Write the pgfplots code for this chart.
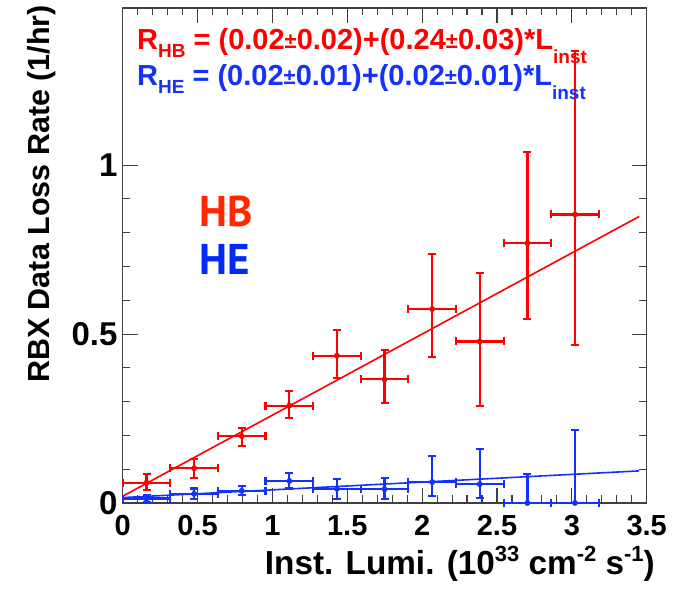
\documentclass[border=0pt]{standalone}
\usepackage{fontspec}
\setmainfont{Liberation Sans}
\newfontfamily\ptsans{PT Sans}
\usepackage{pgfplots}
\usepackage{pgfplotstable}
\pgfplotsset{compat=1.18}
\definecolor{hbred}{RGB}{255,0,0}
\definecolor{heblue}{RGB}{20,50,255}
\definecolor{hbtext}{RGB}{255,40,0}
\definecolor{hetext}{RGB}{0,40,255}
\newcommand\sub[2]{\raisebox{#1}{\fontsize{19}{19}\selectfont #2}}
\newcommand\pmm{{\fontsize{22}{22}\selectfont\raisebox{1pt}{±}}}
\newcommand\sups[1]{\raisebox{13pt}{\fontsize{22}{22}\selectfont #1}}

\pgfplotstableread{
x y ex eyp eym
0.159 0.060 0.159 0.025 0.022
0.477 0.103 0.159 0.026 0.028
0.795 0.198 0.159 0.025 0.029
1.113 0.288 0.159 0.044 0.036
1.431 0.436 0.159 0.076 0.067
1.749 0.366 0.159 0.086 0.069
2.067 0.574 0.159 0.164 0.143
2.385 0.478 0.159 0.202 0.190
2.703 0.769 0.159 0.270 0.224
3.021 0.854 0.159 0.484 0.387
}\hbdata

\pgfplotstableread{
x y ex eyp eym
0.159 0.013 0.159 0.011 0.010
0.477 0.027 0.159 0.016 0.016
0.795 0.036 0.159 0.015 0.013
1.113 0.065 0.159 0.023 0.022
1.431 0.042 0.159 0.029 0.029
1.749 0.041 0.159 0.032 0.030
2.067 0.062 0.159 0.077 0.042
2.385 0.056 0.159 0.105 0.040
2.703 0.000 0.159 0.086 0.000
3.021 0.000 0.159 0.216 0.000
}\hedata

\begin{document}
\begin{tikzpicture}
\useasboundingbox (-122.7pt,-88pt) rectangle (550.3pt,503pt);
\begin{axis}[
  at={(0pt,0pt)}, anchor=south west,
  scale only axis, width=524pt, height=495pt,
  xmin=0, xmax=3.5, ymin=0, ymax=1.465,
  xtick={0,0.5,1,1.5,2,2.5,3,3.5}, ytick={0,0.5,1},
  minor x tick num=4, minor y tick num=4,
  xtick pos=both, ytick pos=both,
  tick align=inside,
  major tick length=15pt, minor tick length=7.5pt,
  axis line style={black!75, line width=1.3pt},
  every tick/.style={black!75, line width=1.1pt},
  /pgf/number format/assume math mode=true,
  xticklabel style={font=\fontsize{29}{29}\selectfont\bfseries, anchor=base, yshift=-33pt, inner sep=0pt},
  yticklabel style={font=\fontsize{33}{33}\selectfont\bfseries, anchor=east, xshift=-5pt, inner sep=0pt},
  clip=false,
]
\addplot[hbred, only marks, mark=*, mark size=2.7pt,
  error bars/.cd, x dir=both, x explicit, y dir=both, y explicit,
  error bar style={line width=2.3pt, hbred},
  error mark=-,
  error mark options={rotate=90, hbred, mark size=4pt, line width=2.1pt}]
  table[x=x, y=y, x error=ex, y error plus=eyp, y error minus=eym] {\hbdata};
\addplot[hbred, line width=1.6pt, no marks] coordinates {(0,0.02) (3.45,0.848)};
\addplot[heblue, only marks, mark=*, mark size=2.7pt,
  error bars/.cd, x dir=both, x explicit, y dir=both, y explicit,
  error bar style={line width=2.3pt, heblue},
  error mark=-,
  error mark options={rotate=90, heblue, mark size=4pt, line width=2.1pt}]
  table[x=x, y=y, x error=ex, y error plus=eyp, y error minus=eym] {\hedata};
\addplot[heblue, line width=1.6pt, no marks] coordinates {(0,0.016) (3.45,0.095)};

\node[anchor=base west, text=hbred, font=\fontsize{29}{29}\selectfont\bfseries, inner sep=0pt]
  at (axis description cs:0.0273,0.917)
  {R\sub{-8pt}{HB} = (0.02\pmm0.02)+(0.24\pmm0.03)*L\sub{-14pt}{inst}};
\node[anchor=base west, text=heblue, font=\fontsize{29}{29}\selectfont\bfseries, inner sep=0pt]
  at (axis description cs:0.0273,0.8444)
  {R\sub{-8pt}{HE} = (0.02\pmm0.01)+(0.02\pmm0.01)*L\sub{-14pt}{inst}};
\node[anchor=base west, text=hbtext, font=\ptsans\fontsize{43}{43}\selectfont\bfseries, inner sep=0pt]
  at (axis description cs:0.1453,0.5576) {HB};
\node[anchor=base west, text=hetext, font=\ptsans\fontsize{43}{43}\selectfont\bfseries, inner sep=0pt]
  at (axis description cs:0.1453,0.4626) {HE};
\end{axis}
\node[rotate=90, anchor=base, font=\fontsize{30.5}{30.5}\selectfont\bfseries, inner sep=0pt]
  at (-73pt,309pt) {RBX Data Loss Rate (1/hr)};
\node[anchor=base east, font=\fontsize{33.3}{33.3}\selectfont\bfseries, inner sep=0pt]
  at (532.3pt,-72pt) {Inst. Lumi. (10\sups{33} cm\sups{-2} s\sups{-1})};
\end{tikzpicture}
\end{document}
